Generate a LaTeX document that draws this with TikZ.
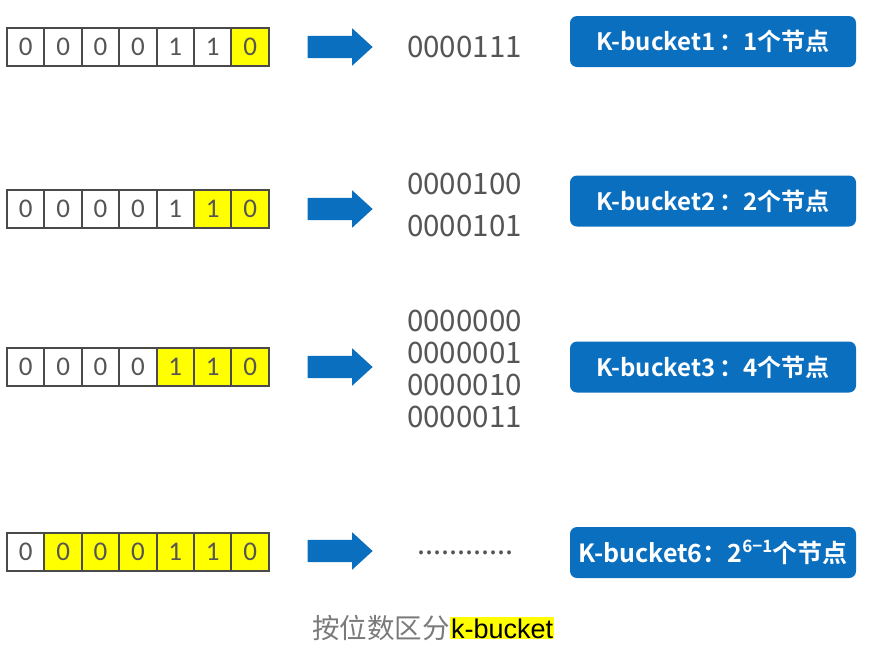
\documentclass[tikz,border=0pt]{standalone}
\usepackage{fontspec}
\setmainfont{Liberation Sans}
\newfontfamily\cjk{Noto Sans CJK SC}
\newfontfamily\cjkb{Noto Sans CJK SC Bold}
\newfontfamily\calf{Carlito}
\usetikzlibrary{shapes.arrows}
\definecolor{kblue}{HTML}{0B6FC0}
\definecolor{tgray}{HTML}{555555}
\definecolor{lgray}{HTML}{4A4A4A}
\definecolor{cgray}{HTML}{7A7A7A}
\definecolor{kyel}{HTML}{FFFF00}
\begin{document}
\begin{tikzpicture}[x=1pt,y=-1pt,
  cell/.style={draw=lgray, line width=2pt, minimum width=37.4pt, minimum height=38pt, inner sep=0pt,
    font=\calf\fontsize{27}{27}\selectfont, text=tgray},
  ycell/.style={cell, fill=kyel},
  bigarrow/.style={single arrow, fill=kblue, draw=none, minimum height=65pt, minimum width=37pt,
    single arrow head extend=7.5pt, single arrow tip angle=85, inner sep=11pt},
  bin/.style={font=\cjk\fontsize{29.5}{29.5}\selectfont, text=tgray, inner sep=0pt, anchor=west},
  kbox/.style={fill=kblue, rounded corners=7pt, minimum width=286pt, minimum height=51pt, inner sep=0pt,
    text=white, font=\cjkb\fontsize{24}{24}\selectfont}]
\useasboundingbox (0,0) rectangle (870,662);
% bit rows
\foreach \r/\y/\ny in {1/47/7, 2/209/6, 3/367/5, 4/552/2}{
  \foreach \d [count=\i] in {0,0,0,0,1,1,0}{
    \pgfmathtruncatemacro{\isy}{\i>=\ny ? 1 : 0}
    \ifnum\isy=1
      \node[ycell] (r\r c\i) at ({7+37.4*(\i-0.5)},\y) {\d};
    \else
      \node[cell] (r\r c\i) at ({7+37.4*(\i-0.5)},\y) {\d};
    \fi
  }
}
% arrows
\node[bigarrow] (a1) at (334,47) {};
\node[bigarrow] (a2) at (334,209) {};
\node[bigarrow] (a3) at (334,367) {};
\node[bigarrow] (a4) at (334,551) {};
% binary strings
\node[bin] (b1) at (407,47) {0000111};
\node[bin] (b2a) at (407,184) {0000100};
\node[bin] (b2b) at (407,226) {0000101};
\node[bin] (b3a) at (407,321) {0000000};
\node[bin] (b3b) at (407,353) {0000001};
\node[bin] (b3c) at (407,385) {0000010};
\node[bin] (b3d) at (407,417) {0000011};
\node[bin, font=\cjk\fontsize{29}{29}\selectfont] (b4) at (417,553) {............};
% blue boxes
\node[kbox] (k1) at (713,41.5) {K-bucket1\,：1个节点};
\node[kbox] (k2) at (713,201) {K-bucket2\,：2个节点};
\node[kbox] (k3) at (713,367) {K-bucket3\,：4个节点};
\node[kbox, font=\cjkb\fontsize{25}{25}\selectfont] (k4) at (713,552.5) {K-bucket6：2\raisebox{0.42em}{\fontsize{17}{17}\selectfont 6−1}个节点};
% caption
\node[font=\cjk\fontsize{27.5}{27.5}\selectfont, text=cgray, inner sep=0pt, anchor=base east] (cap) at (450,638) {按位数区分};
\node[font=\fontsize{27}{27}\selectfont, fill=kyel, text=black, inner sep=1pt, anchor=base west] (kb) at (cap.base east) {k-bucket};
\end{tikzpicture}
\end{document}
